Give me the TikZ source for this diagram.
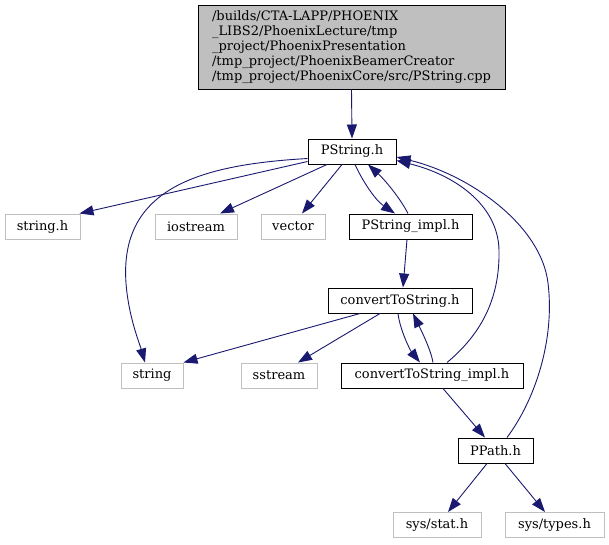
\documentclass[tikz,border=0pt]{standalone}
\usepackage{fontspec}
\setmainfont{DejaVu Serif}
\usetikzlibrary{arrows.meta}
\definecolor{edgeblue}{HTML}{191970}
\definecolor{extgray}{HTML}{BFBFBF}
\definecolor{rootgray}{HTML}{BFBFBF}
\begin{document}
\begin{tikzpicture}[x=1pt,y=-1pt,
  box/.style={draw=black,line width=1pt,fill=white,rectangle,inner sep=0pt,
    minimum height=25pt,font=\fontsize{13}{15}\selectfont},
  extbox/.style={box,draw=extgray},
  dep/.style={draw=edgeblue,line width=0.9pt,-{Triangle[length=14pt,width=10pt]},fill=none}]
\useasboundingbox (0,0) rectangle (609,544);
% nodes
\node[box,fill=rootgray,minimum width=307pt,minimum height=84pt,align=left] (root) at (351.5,47)
 {/builds/CTA-LAPP/PHOENIX\\\_LIBS2/PhoenixLecture/tmp\\\_project/PhoenixPresentation\\/tmp\_project/PhoenixBeamerCreator\\/tmp\_project/PhoenixCore/src/PString.cpp};
\node[box,minimum width=88pt] (PS) at (352,151.5) {PString.h};
\node[extbox,minimum width=75pt] (SH) at (42.5,226.5) {string.h};
\node[extbox,minimum width=82pt] (IO) at (196,226.5) {iostream};
\node[extbox,minimum width=64pt] (VEC) at (293,226.5) {vector};
\node[box,minimum width=123pt] (PSI) at (410.5,226.5) {PString\_impl.h};
\node[box,minimum width=144pt] (CTS) at (400,300.5) {convertToString.h};
\node[extbox,minimum width=62pt] (STR) at (152,375.5) {string};
\node[extbox,minimum width=76pt] (SS) at (279,375.5) {sstream};
\node[box,minimum width=182pt] (CSI) at (432,375.5) {convertToString\_impl.h};
\node[box,minimum width=75pt] (PP) at (495.5,450.5) {PPath.h};
\node[extbox,minimum width=88pt] (STAT) at (437,525) {sys/stat.h};
\node[extbox,minimum width=99pt] (TYPES) at (554.5,525) {sys/types.h};
% edges
\draw[dep] (root.south) -- (PS.north);
\draw[dep] ([yshift=-10pt]PS.west) -- ([xshift=-1pt]SH.north east);
\draw[dep] ([yshift=-7pt]PS.west) .. controls (195,165) and (110,190) .. (128,300)
  .. controls (132,325) and (140,345) .. ([xshift=-7pt]STR.north);
\draw[dep] ([xshift=-25pt]PS.south) -- ([xshift=24pt]IO.north);
\draw[dep] ([xshift=-10pt]PS.south) -- ([xshift=9pt]VEC.north);
\draw[dep] ([xshift=3pt]PS.south) .. controls (362,180) and (375,200) .. ([xshift=-15.5pt]PSI.north);
\draw[dep] ([xshift=-2.5pt]PSI.north) .. controls (400,198) and (385,180) .. ([xshift=16pt]PS.south);
\draw[dep] ([xshift=-3.5pt]PSI.south) -- ([xshift=3pt]CTS.north);
\draw[dep] ([xshift=-40pt]CTS.south) -- (STR.north east);
\draw[dep] ([xshift=-20pt]CTS.south) -- ([xshift=19pt]SS.north);
\draw[dep] ([xshift=-2pt]CTS.south) .. controls (400,330) and (410,350) .. ([xshift=-12pt]CSI.north);
\draw[dep] ([xshift=1pt]CSI.north) .. controls (431,350) and (421,330) .. ([xshift=13pt]CTS.south);
\draw[dep] ([xshift=15pt]CSI.north) .. controls (480,335) and (500,300) .. (499,250)
  .. controls (498,205) and (455,175) .. ([yshift=-9pt]PS.east);
\draw[dep] ([xshift=11pt]CSI.south) -- ([xshift=-10.5pt]PP.north);
\draw[dep] ([xshift=11.5pt]PP.north) .. controls (535,400) and (555,340) .. (548,283)
  .. controls (541,225) and (470,175) .. ([yshift=-5.5pt]PS.east);
\draw[dep] ([xshift=-8.5pt]PP.south) -- ([xshift=11pt]STAT.north);
\draw[dep] ([xshift=9.5pt]PP.south) -- ([xshift=-9.5pt]TYPES.north);
\end{tikzpicture}
\end{document}
